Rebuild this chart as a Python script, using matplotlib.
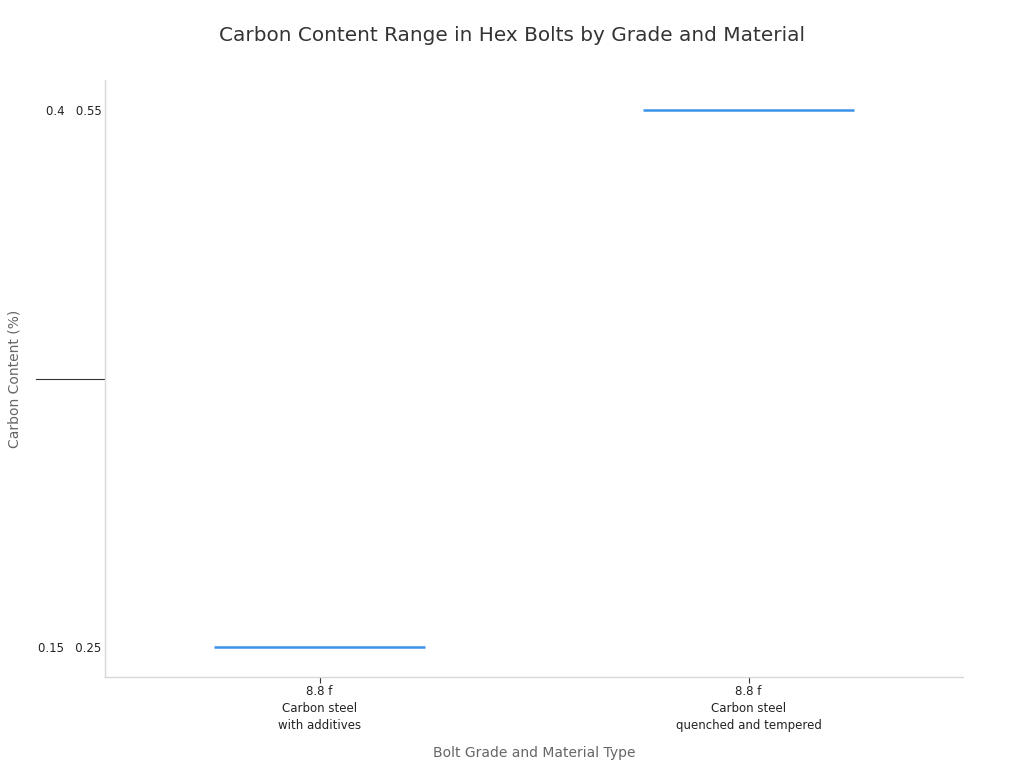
import matplotlib
matplotlib.use("Agg")
import matplotlib.pyplot as plt
from matplotlib.lines import Line2D

# data
grades = ["8.8 f", "8.8 f"]
materials = ["Carbon steel\nwith additives", "Carbon steel\nquenched and tempered"]
carbon_min = ["0.15", "0.4"]
carbon_max = ["0.25", "0.55"]
line_color = "#3a93e8"


def main():
    plt.rcParams['font.family'] = ['DejaVu Sans']
    fig = plt.figure(figsize=(10.24, 7.68), dpi=100)
    ax = fig.add_axes([105/1024, 91/768, 858/1024, 597/768])

    ranges = [f"{lo}   {hi}" for lo, hi in zip(carbon_min, carbon_max)]
    xs = list(range(len(grades)))
    # each range is a categorical y value
    for x, r in zip(xs, ranges):
        y = ranges.index(r)
        ax.plot([x - 0.245, x + 0.245], [y, y], color=line_color, lw=1.8,
                solid_capstyle="butt")

    ax.set_xlim(-0.5, len(grades) - 0.5)
    ax.set_ylim(-0.056, len(ranges) - 1 + 0.056)
    ax.set_xticks(xs)
    ax.set_xticklabels([f"{g}\n{m}" for g, m in zip(grades, materials)],
                       fontsize=8.5, color="#222222", linespacing=1.4)
    ax.set_yticks(range(len(ranges)))
    ax.set_yticklabels(ranges, fontsize=8.5, color="#222222")
    ax.tick_params(axis="x", length=4, width=0.8, color="#333333", pad=1.5)
    ax.tick_params(axis="y", length=0, pad=2.5)

    # stray dark tick in the middle of the y axis
    ax.add_line(Line2D([-0.08, 0], [0.5, 0.5], transform=ax.transAxes,
                       color="#333333", lw=0.8, clip_on=False))

    for s in ["top", "right"]:
        ax.spines[s].set_visible(False)
    for s in ["left", "bottom"]:
        ax.spines[s].set_color("#d8d8d8")
        ax.spines[s].set_linewidth(1.0)

    ax.set_xlabel("Bolt Grade and Material Type", fontsize=10, color="#666666",
                  labelpad=10)
    ax.set_ylabel("Carbon Content (%)", fontsize=10, color="#666666",
                  labelpad=12)
    fig.suptitle("Carbon Content Range in Hex Bolts by Grade and Material",
                 fontsize=14.4, color="#333333", y=0.966)

    fig.savefig("out.png", dpi=100)


if __name__ == "__main__":
    main()
